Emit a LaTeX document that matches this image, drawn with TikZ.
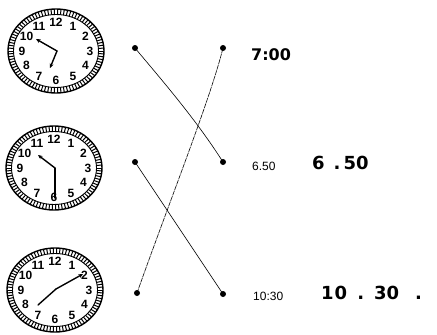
\documentclass[tikz,border=0pt]{standalone}
\usepackage{fontspec}
\setsansfont{Liberation Sans}
\newfontfamily\handfont{DejaVu Sans}
\usetikzlibrary{arrows.meta}
\tikzset{
  num/.style={font=\fontsize{12}{12}\sffamily\bfseries, inner sep=0pt},
  hand/.style={line width=1.4pt, line cap=round},
  handtip/.style={hand, -{Stealth[length=4.5pt,width=4pt]}},
  dotnode/.style={circle, fill=black, inner sep=0pt, minimum size=6pt},
  conn/.style={line width=0.6pt},
  connb/.style={line width=0.6pt, dash pattern=on 5pt off 0.8pt},
  printed/.style={font=\fontsize{12}{12}\sffamily, inner sep=0pt, anchor=west},
  handw/.style={font=\fontsize{18}{18}\handfont\bfseries, inner sep=0pt, anchor=west},
}
\newcommand{\clockdial}[1]{%
  \begin{scope}[shift={(#1)}]
    \draw[line width=1.4pt] (0,0) ellipse [x radius=48, y radius=42];
    \draw[line width=0.9pt] (0,0) ellipse [x radius=42.5, y radius=36.5];
    \foreach \a in {0,4,...,356}
      \draw[line width=1pt] ({42.5*cos(\a)},{36.5*sin(\a)}) -- ({48*cos(\a)},{42*sin(\a)});
    \foreach \h in {1,...,12}
      \node[num] at ({34*cos(90-30*\h)},{-29*sin(90-30*\h)}) {\h};
  \end{scope}}
\begin{document}
\begin{tikzpicture}[x=1pt, y=-1pt]
  \useasboundingbox (0,0) rectangle (437,335);
  % clocks
  \clockdial{56,51}
  \clockdial{54,168}
  \clockdial{55,290}
  \coordinate (c1) at (57,51);
  \coordinate (c2) at (55,168);
  \coordinate (c3) at (56,289);
  % hands
  \draw[handtip] (c1) -- ++(-21,-12);
  \draw[handtip] (c1) -- ++(-7,17);
  \draw[handtip] (c2) -- ++(-17,-13);
  \draw[hand] (c2) -- ++(0,30);
  \draw[hand] (c3) -- ++(-18,16);
  \draw[handtip] (c3) -- ++(27,-15);
  % dots
  \node[dotnode] (l1) at (135,48) {};
  \node[dotnode] (r1) at (223,48) {};
  \node[dotnode] (l2) at (135,162) {};
  \node[dotnode] (r2) at (223,162) {};
  \node[dotnode] (l3) at (137,293) {};
  \node[dotnode] (r3) at (223,294) {};
  % connectors
  \draw[conn] (l1.center) .. controls (160,78) and (195,118) .. (r2.center);
  \draw[connb] (r1.center) .. controls (210,100) and (170,200) .. (l3.center);
  \draw[conn] (l2.center) -- (r3.center);
  % labels
  \node[font=\fontsize{16}{16}\handfont\bfseries, inner sep=0pt, anchor=west] (t1) at (251,55) {7:00};
  \node[printed] (t2) at (252,166) {6.50};
  \node[printed] (t3) at (253,296) {10:30};
  \node[handw] (h2) at (312,163) {6\hspace{9pt}.\hspace{3pt}5\hspace{0pt}0};
  \node[handw] (h3) at (321,293) {1\hspace{1pt}0\hspace{10pt}.\hspace{10pt}30\hspace{16pt}.};
\end{tikzpicture}
\end{document}
